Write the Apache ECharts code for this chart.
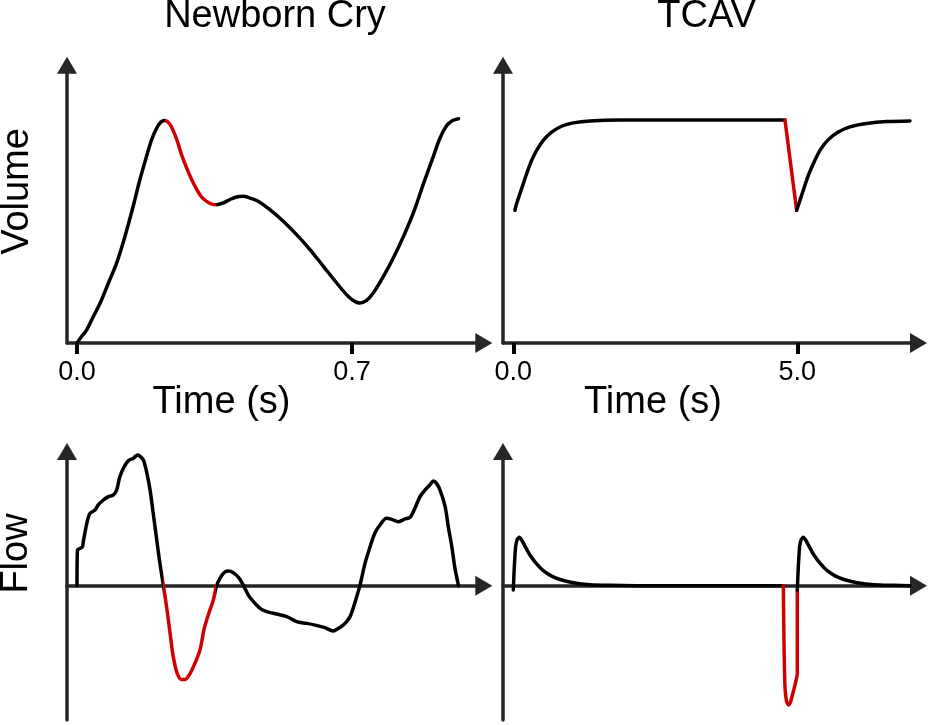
<!DOCTYPE html>
<html>
<head>
<meta charset="utf-8">
<script src="https://cdn.jsdelivr.net/npm/echarts@6/dist/echarts.min.js"></script>
<style>html,body{margin:0;padding:0;background:#fff}#c{width:931px;height:725px}</style>
</head>
<body>
<div id="c"></div>
<script>
// ---- Data ----
const titles = ['Newborn Cry', 'TCAV'];
const cryTicks = [0, 0.7];
const tcavTicks = [0, 5];

// Newborn cry volume (time s, volume a.u.)
const cryVolume = [
  [0.000,0.000],[0.012,0.030],[0.025,0.060],[0.042,0.120],[0.059,0.179],[0.080,0.269],
  [0.101,0.359],[0.122,0.478],[0.143,0.613],[0.160,0.732],[0.177,0.837],[0.190,0.912],
  [0.203,0.964],[0.213,0.990],[0.223,0.998],[0.237,0.979],[0.254,0.912],[0.266,0.845],
  [0.279,0.785],[0.292,0.732],[0.305,0.688],[0.317,0.655],[0.330,0.635],[0.343,0.623],
  [0.355,0.620],[0.372,0.628],[0.389,0.643],[0.406,0.655],[0.423,0.658],[0.440,0.650],
  [0.462,0.635],[0.491,0.598],[0.525,0.546],[0.559,0.486],[0.593,0.419],[0.627,0.344],
  [0.661,0.269],[0.686,0.217],[0.703,0.191],[0.720,0.179],[0.737,0.191],[0.754,0.224],
  [0.780,0.299],[0.805,0.381],[0.831,0.478],[0.856,0.583],[0.881,0.710],[0.907,0.837],
  [0.924,0.919],[0.941,0.975],[0.956,0.998],[0.971,1.006]
];
const cryVolumeRed = [0.223, 0.355];

// Newborn cry flow
const cryFlow = [
  [0.000,0.000],[0.001,0.274],[0.008,0.287],[0.014,0.300],[0.016,0.338],[0.025,0.479],
  [0.033,0.556],[0.046,0.582],[0.054,0.621],[0.067,0.659],[0.080,0.685],[0.092,0.697],
  [0.101,0.736],[0.109,0.838],[0.120,0.915],[0.131,0.962],[0.143,0.979],[0.148,0.992],
  [0.154,1.005],[0.160,0.997],[0.169,0.967],[0.177,0.877],[0.186,0.736],[0.194,0.556],
  [0.203,0.351],[0.211,0.172],[0.220,0.000],[0.228,-0.162],[0.237,-0.367],[0.245,-0.546],
  [0.255,-0.674],[0.266,-0.721],[0.275,-0.721],[0.288,-0.674],[0.300,-0.597],[0.313,-0.495],
  [0.323,-0.341],[0.334,-0.226],[0.347,-0.110],[0.355,0.000],[0.364,0.056],[0.374,0.100],
  [0.385,0.113],[0.398,0.100],[0.411,0.064],[0.423,0.005],[0.436,-0.072],[0.449,-0.123],
  [0.466,-0.174],[0.483,-0.200],[0.508,-0.218],[0.534,-0.238],[0.559,-0.277],[0.585,-0.290],
  [0.606,-0.303],[0.631,-0.323],[0.652,-0.349],[0.661,-0.336],[0.678,-0.303],[0.695,-0.238],
  [0.708,-0.123],[0.720,0.000],[0.733,0.172],[0.746,0.300],[0.758,0.403],[0.771,0.467],
  [0.788,0.518],[0.801,0.510],[0.818,0.492],[0.835,0.513],[0.848,0.526],[0.860,0.595],
  [0.873,0.685],[0.886,0.736],[0.898,0.774],[0.907,0.805],[0.915,0.787],[0.924,0.736],
  [0.937,0.608],[0.945,0.454],[0.954,0.300],[0.962,0.133],[0.971,0.000]
];
const cryFlowRed = [0.220, 0.355];

// TCAV volume
const tcavVolA = [
  [0.029,0.595],[0.059,0.625],[0.117,0.670],[0.176,0.714],[0.235,0.759],[0.323,0.819],
  [0.411,0.864],[0.528,0.909],[0.675,0.946],[0.851,0.972],[1.056,0.987],[1.350,0.996],
  [1.878,1.000],[2.758,1.000],[4.783,1.000]
];
const tcavVolRed = [[4.783,1.000],[4.988,0.595]];
const tcavVolB = [
  [4.988,0.595],[5.047,0.640],[5.106,0.685],[5.194,0.752],[5.282,0.804],[5.399,0.864],
  [5.546,0.912],[5.722,0.946],[5.927,0.969],[6.221,0.984],[6.573,0.993],[6.984,0.996]
];

// TCAV flow
const tcavFlowA = [
  [0.000,-0.033],[0.018,0.146],[0.041,0.300],[0.070,0.356],[0.106,0.372],[0.147,0.351],
  [0.205,0.305],[0.293,0.236],[0.411,0.167],[0.528,0.115],[0.675,0.074],[0.851,0.044],
  [1.056,0.023],[1.350,0.008],[1.702,0.003],[2.171,0.000],[4.754,0.000]
];
const tcavFlowRed = [
  [4.754,0.000],[4.765,-0.418],[4.783,-0.777],[4.812,-0.892],[4.847,-0.918],[4.883,-0.892],
  [5.000,-0.674],[5.000,-0.033]
];
const tcavFlowB = [
  [5.000,-0.033],[5.018,0.146],[5.041,0.300],[5.070,0.356],[5.106,0.372],[5.147,0.351],
  [5.205,0.305],[5.293,0.236],[5.411,0.167],[5.528,0.115],[5.675,0.074],[5.851,0.044],
  [6.056,0.023],[6.350,0.008],[6.702,0.003],[6.984,0.000]
];

// ---- Chart ----
const BLACK = '#000', RED = '#d10000', AX = '#262626';
const FONT = '"Liberation Sans", Arial, sans-serif';
const arrow = 'path://M0,17 L10,0 L20,17 Z';

function axisLine(hasArrow) {
  return {show: true, onZero: false,
    symbol: hasArrow ? ['none', arrow] : ['none', 'none'], symbolSize: [20, 17],
    lineStyle: {color: AX, width: 3.5}};
}
function xAx(grid, min, max, ticks, onZero) {
  const a = {type: 'value', gridIndex: grid, min: min, max: max,
    axisLine: axisLine(true), splitLine: {show: false},
    axisTick: {show: false}, axisLabel: {show: false}};
  a.axisLine.onZero = !!onZero;
  if (ticks) {
    a.axisTick = {show: true, customValues: ticks, length: 11, lineStyle: {color: BLACK, width: 4}};
    a.axisLabel = {show: true, customValues: ticks, margin: 16, color: BLACK, fontSize: 27,
      fontFamily: FONT, formatter: v => v.toFixed(1)};
  }
  return a;
}
function yAx(grid, min, max) {
  return {type: 'value', gridIndex: grid, min: min, max: max,
    axisLine: axisLine(true), splitLine: {show: false},
    axisTick: {show: false}, axisLabel: {show: false}};
}
function line(xi, data, color, smooth) {
  const s = {type: 'line', xAxisIndex: xi, yAxisIndex: xi, data: data, showSymbol: false,
    smooth: smooth, lineStyle: {width: 3.5, cap: 'round', join: 'round'},
    z: 3, silent: true, animation: false};
  if (color) { s.lineStyle.color = color; s.itemStyle = {color: color}; }
  return s;
}
function redPieces(r) {
  return [{lt: r[0], color: BLACK}, {gte: r[0], lt: r[1], color: RED}, {gte: r[1], color: BLACK}];
}

const gridBase = {containLabel: false, outerBoundsMode: 'none', show: false};
const option = {
  backgroundColor: '#fff',
  animation: false,
  grid: [
    Object.assign({left: 67, top: 65.2, width: 416.8, height: 277.8}, gridBase),
    Object.assign({left: 503, top: 65.2, width: 415.5, height: 277.8}, gridBase),
    Object.assign({left: 67, top: 451.5, width: 416.8, height: 268.5}, gridBase),
    Object.assign({left: 503, top: 451.5, width: 415.5, height: 268.5}, gridBase)
  ],
  xAxis: [
    xAx(0, -0.02545, 1.0354, cryTicks, false),
    xAx(1, -0.1813, 7.1338, tcavTicks, false),
    xAx(2, -0.02545, 1.0354, null, true),
    xAx(3, -0.1813, 7.1338, null, true)
  ],
  yAxis: [
    yAx(0, 0, 1.2457), yAx(1, 0, 1.2457), yAx(2, -1.033, 1.032), yAx(3, -1.033, 1.032)
  ],
  visualMap: [
    {type: 'piecewise', show: false, dimension: 0, seriesIndex: 0, pieces: redPieces(cryVolumeRed)},
    {type: 'piecewise', show: false, dimension: 0, seriesIndex: 1, pieces: redPieces(cryFlowRed)}
  ],
  series: [
    line(0, cryVolume, null, 0.35),
    line(2, cryFlow, null, 0.3),
    line(1, tcavVolA, BLACK, 0.3),
    line(1, tcavVolRed, RED, false),
    line(1, tcavVolB, BLACK, 0.3),
    line(3, tcavFlowA, BLACK, 0.2),
    line(3, tcavFlowRed, RED, 0.15),
    line(3, tcavFlowB, BLACK, 0.2)
  ],
  graphic: [
    {type: 'text', x: 275, y: 17, style: {text: titles[0], font: '38px ' + FONT, fill: BLACK, textAlign: 'center', textVerticalAlign: 'middle'}},
    {type: 'text', x: 706.5, y: 17, style: {text: titles[1], font: '38px ' + FONT, fill: BLACK, textAlign: 'center', textVerticalAlign: 'middle'}},
    {type: 'text', x: 221.5, y: 403, style: {text: 'Time (s)', font: '38px ' + FONT, fill: BLACK, textAlign: 'center', textVerticalAlign: 'middle'}},
    {type: 'text', x: 653, y: 403, style: {text: 'Time (s)', font: '38px ' + FONT, fill: BLACK, textAlign: 'center', textVerticalAlign: 'middle'}},
    {type: 'text', x: 18, y: 191.5, rotation: Math.PI / 2, style: {text: 'Volume', font: '38px ' + FONT, fill: BLACK, textAlign: 'center', textVerticalAlign: 'middle'}},
    {type: 'text', x: 17, y: 553.5, rotation: Math.PI / 2, style: {text: 'Flow', font: '38px ' + FONT, fill: BLACK, textAlign: 'center', textVerticalAlign: 'middle'}}
  ]
};
const chart = echarts.init(document.getElementById('c'), null, {renderer: 'canvas'});
chart.setOption(option);
</script>
</body>
</html>
